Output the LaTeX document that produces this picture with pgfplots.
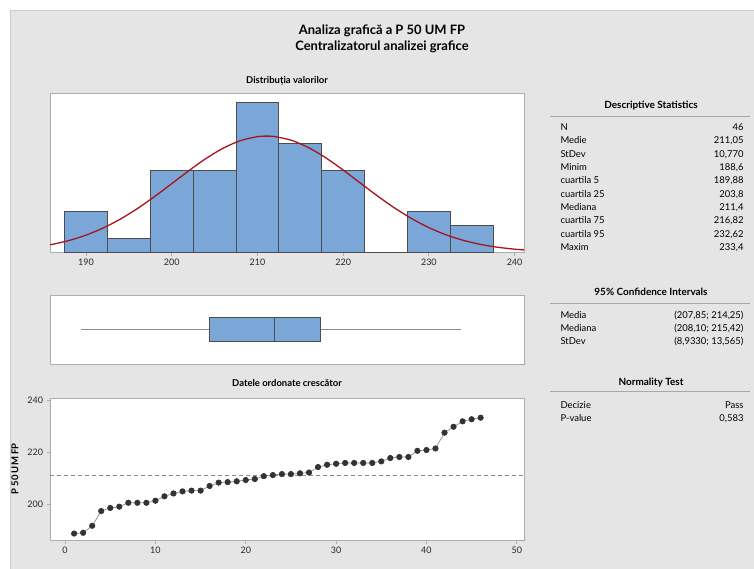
\documentclass[border=0pt]{standalone}
\usepackage{fontspec}
\setmainfont{Lato}
\usepackage{pgfplots}
\pgfplotsset{compat=1.18}
\usepgfplotslibrary{statistics}
\definecolor{bgray}{HTML}{E5E5E5}
\definecolor{bordergray}{HTML}{CCCCCC}
\definecolor{panelgray}{HTML}{ADADAD}
\definecolor{barblue}{HTML}{7BA7D8}
\definecolor{bardark}{HTML}{4D4D4D}
\definecolor{curvered}{HTML}{A6141C}
\definecolor{dotdark}{HTML}{333333}
\definecolor{linegray}{HTML}{8A8A8A}
\definecolor{rulegray}{HTML}{A8A8A8}
\pgfplotsset{panel/.style={scale only axis, anchor=north west,
  axis background/.style={fill=white},
  axis line style={draw=panelgray, line width=0.9bp},
  tick style={draw=panelgray, line width=0.8bp},
  major tick length=3.5bp, tick align=outside, tick pos=left,
  ticklabel style={font=\fontsize{9}{10}\selectfont, text=black!85},
  /pgf/number format/assume math mode=true}}
\newcommand{\tf}{\fontsize{9.5}{11}\selectfont}
\newcommand{\hf}{\bfseries\fontsize{10}{12}\selectfont}
\begin{document}
\begin{tikzpicture}[x=1bp,y=1bp]
\path[use as bounding box] (0,0) rectangle (754,-569);
\fill[white] (0,0) rectangle (754,-569);
\filldraw[fill=bgray, draw=bordergray, line width=1bp] (10.5,-10.5) rectangle (755,-570);
% titles
\node[anchor=base, font=\bfseries\fontsize{13}{15}\selectfont] at (382,-35) {Analiza grafică a P 50 UM FP};
\node[anchor=base, font=\bfseries\fontsize{13}{15}\selectfont] at (382,-51) {Centralizatorul analizei grafice};
\node[anchor=base, font=\bfseries\fontsize{9.5}{11}\selectfont] at (287,-84) {Distribuția valorilor};
\node[anchor=base, font=\bfseries\fontsize{9.5}{11}\selectfont] at (287,-386.5) {Datele ordonate crescător};
% histogram
\begin{axis}[panel, at={(50bp,-93.3bp)}, width=474bp, height=159bp,
  xmin=185.8, xmax=241.1, ymin=0, ymax=11.66,
  xtick={190,200,...,240}, ytick=\empty]
\addplot[ybar interval, fill=barblue, draw=bardark, line width=0.8bp] coordinates {
(187.5,3) (192.5,1) (197.5,6) (202.5,6) (207.5,11) (212.5,8) (217.5,6) (222.5,0) (227.5,3) (232.5,2) (237.5,2)};
\addplot[curvered, line width=1.3bp, smooth] coordinates {
(185.8,0.545)(188,0.862)(190,1.262)(192,1.782)(194,2.433)(196,3.209)(198,4.089)(200,5.034)(202,5.985)(204,6.877)(206,7.633)(208,8.185)(210,8.480)(211.05,8.52)(212,8.487)(214,8.207)(216,7.666)(218,6.918)(220,6.032)(222,5.081)(224,4.135)(226,3.251)(228,2.470)(230,1.812)(232,1.285)(234,0.880)(236,0.583)(238,0.372)(240,0.230)(241.1,0.174)};
\end{axis}
% boxplot
\begin{axis}[panel, at={(50bp,-295bp)}, width=474bp, height=69bp,
  xmin=184.94, xmax=240.87, ymin=0, ymax=2, xtick=\empty, ytick=\empty]
\addplot[fill=barblue, draw=bardark, line width=0.9bp,
  boxplot prepared={lower whisker=188.6, lower quartile=203.8, median=211.4,
  upper quartile=216.82, upper whisker=233.4, draw position=1, box extend=0.696,
  whisker extend=0, draw direction=x,
  every whisker/.style={draw=linegray, line width=1bp}}] coordinates {};
\end{axis}
% ordered data
\begin{axis}[panel, at={(50bp,-398.3bp)}, width=474bp, height=141.7bp,
  xmin=-1.67, xmax=50.8, ymin=186.1, ymax=240.9,
  xtick={0,10,...,50}, ytick={200,220,240}]
\addplot[draw=linegray, dash pattern=on 4bp off 3bp, line width=0.8bp] coordinates {(-1.67,211.05) (50.8,211.05)};
\addplot[draw=linegray, line width=0.7bp, mark=*, mark size=2.7bp, mark options={fill=dotdark, draw=dotdark, solid}] coordinates {
(1,188.6)(2,188.9)(3,191.6)(4,197.3)(5,198.5)(6,199.0)(7,200.5)(8,200.5)(9,200.5)(10,201.3)
(11,203.0)(12,204.1)(13,204.9)(14,205.2)(15,205.2)(16,207.0)(17,208.3)(18,208.5)(19,208.8)(20,209.3)
(21,209.7)(22,210.8)(23,211.2)(24,211.6)(25,211.6)(26,211.9)(27,212.2)(28,214.3)(29,215.2)(30,215.6)
(31,215.9)(32,215.9)(33,215.9)(34,215.9)(35,216.5)(36,217.8)(37,218.2)(38,218.2)(39,220.6)(40,220.9)
(41,221.5)(42,227.6)(43,229.9)(44,232.0)(45,232.8)(46,233.4)};
\end{axis}
\node[rotate=90, anchor=center, font=\bfseries\fontsize{9.5}{11}\selectfont] at (15,-469) {P 50 UM FP};
% Descriptive statistics
\node[anchor=base, font=\hf] at (651,-108.5) {Descriptive Statistics};
\draw[rulegray, line width=1.2bp] (550,-116.5) -- (750,-116.5);
\node[anchor=base west, font=\tf] at (557,-130.6) {N};
\node[anchor=base east, font=\tf] at (747,-130.6) {46};
\node[anchor=base west, font=\tf] at (557,-143.9) {Medie};
\node[anchor=base east, font=\tf] at (747,-143.9) {211,05};
\node[anchor=base west, font=\tf] at (557,-157.3) {StDev};
\node[anchor=base east, font=\tf] at (747,-157.3) {10,770};
\node[anchor=base west, font=\tf] at (557,-170.6) {Minim};
\node[anchor=base east, font=\tf] at (747,-170.6) {188,6};
\node[anchor=base west, font=\tf] at (557,-183.9) {cuartila 5};
\node[anchor=base east, font=\tf] at (747,-183.9) {189,88};
\node[anchor=base west, font=\tf] at (557,-197.3) {cuartila 25};
\node[anchor=base east, font=\tf] at (747,-197.3) {203,8};
\node[anchor=base west, font=\tf] at (557,-210.6) {Mediana};
\node[anchor=base east, font=\tf] at (747,-210.6) {211,4};
\node[anchor=base west, font=\tf] at (557,-223.9) {cuartila 75};
\node[anchor=base east, font=\tf] at (747,-223.9) {216,82};
\node[anchor=base west, font=\tf] at (557,-237.3) {cuartila 95};
\node[anchor=base east, font=\tf] at (747,-237.3) {232,62};
\node[anchor=base west, font=\tf] at (557,-250.6) {Maxim};
\node[anchor=base east, font=\tf] at (747,-250.6) {233,4};
% Confidence intervals
\node[anchor=base, font=\hf] at (651,-295.5) {95\% Confidence Intervals};
\draw[rulegray, line width=1.2bp] (550,-303.5) -- (750,-303.5);
\node[anchor=base west, font=\tf] at (557,-318.3) {Media};
\node[anchor=base east, font=\tf] at (747,-318.3) {(207,85; 214,25)};
\node[anchor=base west, font=\tf] at (557,-331.6) {Mediana};
\node[anchor=base east, font=\tf] at (747,-331.6) {(208,10; 215,42)};
\node[anchor=base west, font=\tf] at (557,-344.9) {StDev};
\node[anchor=base east, font=\tf] at (747,-344.9) {(8,9330; 13,565)};
% Normality test
\node[anchor=base, font=\hf] at (651,-385.5) {Normality Test};
\draw[rulegray, line width=1.2bp] (550,-391.5) -- (750,-391.5);
\node[anchor=base west, font=\tf] at (557,-408.5) {Decizie};
\node[anchor=base east, font=\tf] at (747,-408.5) {Pass};
\node[anchor=base west, font=\tf] at (557,-421) {P-value};
\node[anchor=base east, font=\tf] at (747,-421) {0,583};
\end{tikzpicture}
\end{document}
